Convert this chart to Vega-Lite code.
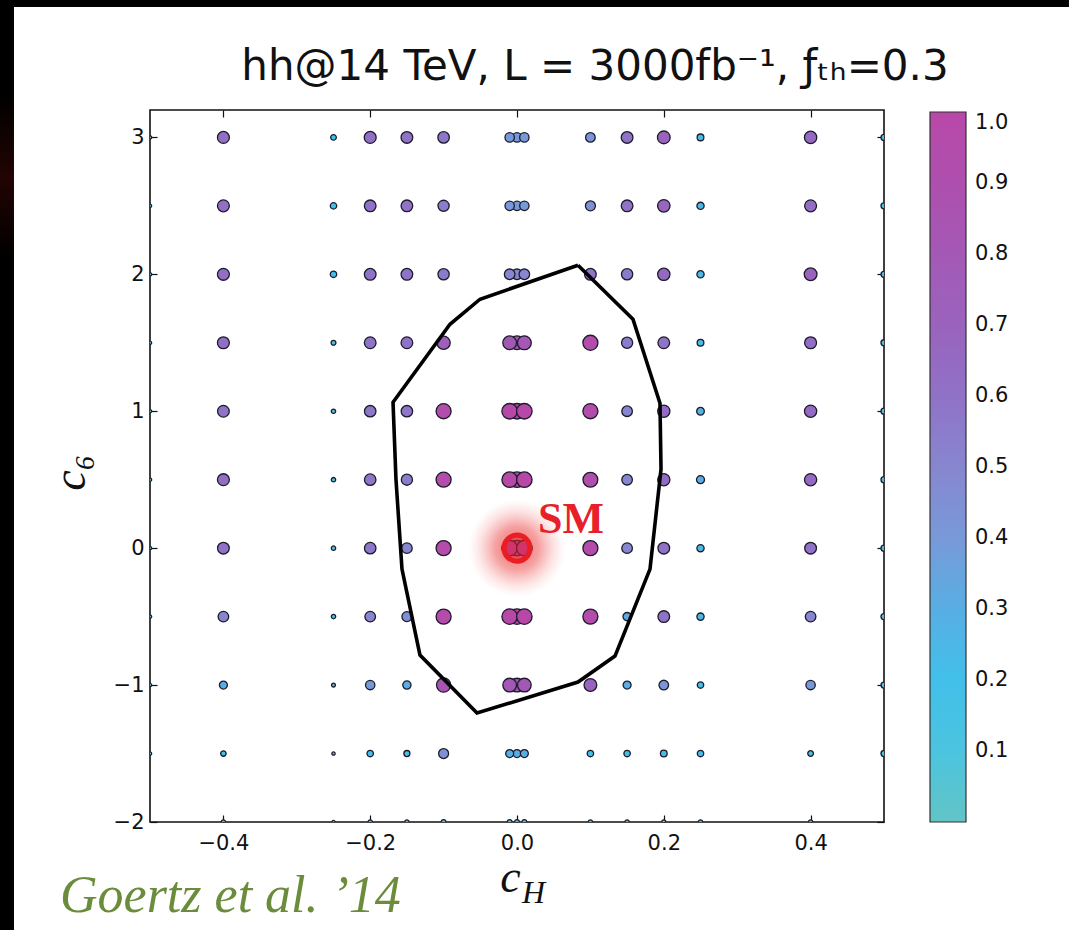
{
  "$schema": "https://vega.github.io/schema/vega-lite/v6.json",
  "width": 734,
  "height": 712,
  "autosize": {"type": "none"},
  "padding": {"left": 150, "top": 110, "right": 185, "bottom": 108},
  "background": "white",
  "title": {
    "text": "hh@14 TeV, L = 3000fb⁻¹, ƒₜₕ=0.3",
    "font": "DejaVu Sans",
    "fontSize": 42,
    "fontWeight": "normal",
    "color": "#111111",
    "anchor": "middle",
    "frame": "group",
    "baseline": "alphabetic",
    "dx": 78,
    "dy": 122,
    "offset": 0
  },
  "config": {
    "view": {"stroke": "#111111", "strokeWidth": 1.6, "fill": "white"}
  },
  "resolve": {"axis": {"x": "independent", "y": "independent"}},
  "layer": [
    {
      "description": "slide frame, left edge",
      "data": {"values": [{}]},
      "mark": {
        "type": "rect",
        "fill": {
          "gradient": "linear", "x1": 0, "y1": 0, "x2": 0, "y2": 1,
          "stops": [
            {"offset": 0, "color": "#000000"},
            {"offset": 0.1, "color": "#000000"},
            {"offset": 0.19, "color": "#220404"},
            {"offset": 0.28, "color": "#000000"},
            {"offset": 1, "color": "#000000"}
          ]
        }
      },
      "encoding": {
        "x": {"datum": -0.70436, "type": "quantitative", "axis": null},
        "x2": {"datum": -0.6853},
        "y": {"datum": 4.0034, "type": "quantitative", "axis": null},
        "y2": {"datum": -2.788}
      }
    },
    {
      "description": "slide frame, top edge",
      "data": {"values": [{}]},
      "mark": {"type": "rect", "fill": "#000000"},
      "encoding": {
        "x": {"datum": -0.70436, "type": "quantitative", "axis": null},
        "x2": {"datum": 0.752},
        "y": {"datum": 4.0034, "type": "quantitative", "axis": null},
        "y2": {"datum": 3.9525}
      }
    },
    {
      "description": "soft glow behind the SM point",
      "data": {"values": [{"cH": 0, "c6": 0}]},
      "mark": {
        "type": "point", "filled": true, "shape": "circle", "size": 9500, "opacity": 1, "strokeWidth": 0,
        "fill": {
          "gradient": "radial", "x1": 0.5, "y1": 0.5, "r1": 0, "x2": 0.5, "y2": 0.5, "r2": 0.5,
          "stops": [
            {"offset": 0, "color": "rgba(234,60,60,0.8)"},
            {"offset": 0.45, "color": "rgba(238,85,85,0.55)"},
            {"offset": 0.75, "color": "rgba(242,120,120,0.22)"},
            {"offset": 1, "color": "rgba(248,160,160,0)"}
          ]
        }
      },
      "encoding": {
        "x": {"field": "cH", "type": "quantitative", "axis": null},
        "y": {"field": "c6", "type": "quantitative", "axis": null}
      }
    },
    {
      "description": "scan points",
      "data": {"values": [
        {"x": -0.5, "y": 3, "p": 0.06}, {"x": -0.5, "y": 2.5, "p": 0.06}, {"x": -0.5, "y": 2, "p": 0.06}, {"x": -0.5, "y": 1.5, "p": 0.06}, {"x": -0.5, "y": 1, "p": 0.06}, {"x": -0.5, "y": 0.5, "p": 0.06}, {"x": -0.5, "y": 0, "p": 0.06}, {"x": -0.5, "y": -0.5, "p": 0.06}, {"x": -0.5, "y": -1, "p": 0.06}, {"x": -0.5, "y": -1.5, "p": 0.06},
        {"x": 0.5, "y": 3, "p": 0.18}, {"x": 0.5, "y": 2.5, "p": 0.18}, {"x": 0.5, "y": 2, "p": 0.18}, {"x": 0.5, "y": 1.5, "p": 0.18}, {"x": 0.5, "y": 1, "p": 0.18}, {"x": 0.5, "y": 0.5, "p": 0.18}, {"x": 0.5, "y": 0, "p": 0.18}, {"x": 0.5, "y": -0.5, "p": 0.18}, {"x": 0.5, "y": -1, "p": 0.18}, {"x": 0.5, "y": -1.5, "p": 0.18},
        {"x": -0.4, "y": -2, "p": 0.1}, {"x": -0.25, "y": -2, "p": 0.06}, {"x": -0.2, "y": -2, "p": 0.1}, {"x": -0.15, "y": -2, "p": 0.1}, {"x": -0.1, "y": -2, "p": 0.12}, {"x": 0, "y": -2, "p": 0.12}, {"x": -0.01, "y": -2, "p": 0.12}, {"x": 0.01, "y": -2, "p": 0.12}, {"x": 0.1, "y": -2, "p": 0.1}, {"x": 0.15, "y": -2, "p": 0.1}, {"x": 0.2, "y": -2, "p": 0.1}, {"x": 0.25, "y": -2, "p": 0.1}, {"x": 0.4, "y": -2, "p": 0.1},

        {"x": -0.4, "y": 3, "p": 0.62}, {"x": -0.25, "y": 3, "p": 0.16}, {"x": -0.2, "y": 3, "p": 0.62}, {"x": -0.15, "y": 3, "p": 0.6}, {"x": -0.1, "y": 3, "p": 0.58}, {"x": 0, "y": 3, "p": 0.4}, {"x": -0.01, "y": 3, "p": 0.4}, {"x": 0.01, "y": 3, "p": 0.4}, {"x": 0.1, "y": 3, "p": 0.42}, {"x": 0.15, "y": 3, "p": 0.6}, {"x": 0.2, "y": 3, "p": 0.7}, {"x": 0.25, "y": 3, "p": 0.22}, {"x": 0.4, "y": 3, "p": 0.66},
        {"x": -0.4, "y": 2.5, "p": 0.62}, {"x": -0.25, "y": 2.5, "p": 0.2}, {"x": -0.2, "y": 2.5, "p": 0.6}, {"x": -0.15, "y": 2.5, "p": 0.6}, {"x": -0.1, "y": 2.5, "p": 0.55}, {"x": 0, "y": 2.5, "p": 0.4}, {"x": -0.01, "y": 2.5, "p": 0.4}, {"x": 0.01, "y": 2.5, "p": 0.4}, {"x": 0.1, "y": 2.5, "p": 0.45}, {"x": 0.15, "y": 2.5, "p": 0.6}, {"x": 0.2, "y": 2.5, "p": 0.68}, {"x": 0.25, "y": 2.5, "p": 0.25}, {"x": 0.4, "y": 2.5, "p": 0.62},
        {"x": -0.4, "y": 2, "p": 0.62}, {"x": -0.25, "y": 2, "p": 0.2}, {"x": -0.2, "y": 2, "p": 0.6}, {"x": -0.15, "y": 2, "p": 0.6}, {"x": -0.1, "y": 2, "p": 0.56}, {"x": 0, "y": 2, "p": 0.5}, {"x": -0.01, "y": 2, "p": 0.5}, {"x": 0.01, "y": 2, "p": 0.5}, {"x": 0.1, "y": 2, "p": 0.6}, {"x": 0.15, "y": 2, "p": 0.56}, {"x": 0.2, "y": 2, "p": 0.66}, {"x": 0.25, "y": 2, "p": 0.25}, {"x": 0.4, "y": 2, "p": 0.7},
        {"x": -0.4, "y": 1.5, "p": 0.62}, {"x": -0.25, "y": 1.5, "p": 0.12}, {"x": -0.2, "y": 1.5, "p": 0.6}, {"x": -0.15, "y": 1.5, "p": 0.6}, {"x": -0.1, "y": 1.5, "p": 0.75}, {"x": 0, "y": 1.5, "p": 0.8}, {"x": -0.01, "y": 1.5, "p": 0.8}, {"x": 0.01, "y": 1.5, "p": 0.82}, {"x": 0.1, "y": 1.5, "p": 0.95}, {"x": 0.15, "y": 1.5, "p": 0.55}, {"x": 0.2, "y": 1.5, "p": 0.6}, {"x": 0.25, "y": 1.5, "p": 0.22}, {"x": 0.4, "y": 1.5, "p": 0.62},
        {"x": -0.4, "y": 1, "p": 0.6}, {"x": -0.25, "y": 1, "p": 0.1}, {"x": -0.2, "y": 1, "p": 0.58}, {"x": -0.15, "y": 1, "p": 0.58}, {"x": -0.1, "y": 1, "p": 0.95}, {"x": 0, "y": 1, "p": 1.0}, {"x": -0.01, "y": 1, "p": 1.0}, {"x": 0.01, "y": 1, "p": 1.0}, {"x": 0.1, "y": 1, "p": 0.95}, {"x": 0.15, "y": 1, "p": 0.5}, {"x": 0.2, "y": 1, "p": 0.65}, {"x": 0.25, "y": 1, "p": 0.28}, {"x": 0.4, "y": 1, "p": 0.65},
        {"x": -0.4, "y": 0.5, "p": 0.62}, {"x": -0.25, "y": 0.5, "p": 0.1}, {"x": -0.2, "y": 0.5, "p": 0.58}, {"x": -0.15, "y": 0.5, "p": 0.55}, {"x": -0.1, "y": 0.5, "p": 0.95}, {"x": 0, "y": 0.5, "p": 1.0}, {"x": -0.01, "y": 0.5, "p": 1.0}, {"x": 0.01, "y": 0.5, "p": 1.0}, {"x": 0.1, "y": 0.5, "p": 0.92}, {"x": 0.15, "y": 0.5, "p": 0.5}, {"x": 0.2, "y": 0.5, "p": 0.65}, {"x": 0.25, "y": 0.5, "p": 0.3}, {"x": 0.4, "y": 0.5, "p": 0.65},
        {"x": -0.4, "y": 0, "p": 0.6}, {"x": -0.25, "y": 0, "p": 0.1}, {"x": -0.2, "y": 0, "p": 0.58}, {"x": -0.15, "y": 0, "p": 0.5}, {"x": -0.1, "y": 0, "p": 0.95}, {"x": 0, "y": 0, "p": 1.0}, {"x": -0.01, "y": 0, "p": 1.0}, {"x": 0.01, "y": 0, "p": 1.0}, {"x": 0.1, "y": 0, "p": 0.95}, {"x": 0.15, "y": 0, "p": 0.5}, {"x": 0.2, "y": 0, "p": 0.6}, {"x": 0.25, "y": 0, "p": 0.25}, {"x": 0.4, "y": 0, "p": 0.6},
        {"x": -0.4, "y": -0.5, "p": 0.5}, {"x": -0.25, "y": -0.5, "p": 0.1}, {"x": -0.2, "y": -0.5, "p": 0.5}, {"x": -0.15, "y": -0.5, "p": 0.45}, {"x": -0.1, "y": -0.5, "p": 0.95}, {"x": 0, "y": -0.5, "p": 1.0}, {"x": -0.01, "y": -0.5, "p": 1.0}, {"x": 0.01, "y": -0.5, "p": 1.0}, {"x": 0.1, "y": -0.5, "p": 0.95}, {"x": 0.15, "y": -0.5, "p": 0.32}, {"x": 0.2, "y": -0.5, "p": 0.6}, {"x": 0.25, "y": -0.5, "p": 0.25}, {"x": 0.4, "y": -0.5, "p": 0.5},
        {"x": -0.4, "y": -1, "p": 0.3}, {"x": -0.25, "y": -1, "p": 0.08}, {"x": -0.2, "y": -1, "p": 0.4}, {"x": -0.15, "y": -1, "p": 0.32}, {"x": -0.1, "y": -1, "p": 0.85}, {"x": 0, "y": -1, "p": 0.8}, {"x": -0.01, "y": -1, "p": 0.8}, {"x": 0.01, "y": -1, "p": 0.8}, {"x": 0.1, "y": -1, "p": 0.7}, {"x": 0.15, "y": -1, "p": 0.3}, {"x": 0.2, "y": -1, "p": 0.42}, {"x": 0.25, "y": -1, "p": 0.2}, {"x": 0.4, "y": -1, "p": 0.4},
        {"x": -0.4, "y": -1.5, "p": 0.15}, {"x": -0.25, "y": -1.5, "p": 0.06}, {"x": -0.2, "y": -1.5, "p": 0.2}, {"x": -0.15, "y": -1.5, "p": 0.18}, {"x": -0.1, "y": -1.5, "p": 0.45}, {"x": 0, "y": -1.5, "p": 0.3}, {"x": -0.01, "y": -1.5, "p": 0.3}, {"x": 0.01, "y": -1.5, "p": 0.3}, {"x": 0.1, "y": -1.5, "p": 0.2}, {"x": 0.15, "y": -1.5, "p": 0.2}, {"x": 0.2, "y": -1.5, "p": 0.22}, {"x": 0.25, "y": -1.5, "p": 0.2}, {"x": 0.4, "y": -1.5, "p": 0.16}
      ]},
      "mark": {"type": "point", "filled": true, "shape": "circle", "opacity": 1, "stroke": "#1c1c2c", "strokeWidth": 1.3, "clip": true},
      "encoding": {
        "x": {
          "field": "x", "type": "quantitative",
          "scale": {"domain": [-0.5, 0.5], "nice": false, "zero": false},
          "axis": {
            "orient": "bottom", "values": [-0.4, -0.2, 0, 0.2, 0.4], "format": ".1f",
            "grid": false, "domain": false,
            "tickSize": -7, "tickColor": "#111111", "tickWidth": 1.2,
            "labelFont": "DejaVu Sans", "labelFontSize": 21, "labelColor": "#111111", "labelPadding": 17,
            "title": "c", "titleFont": "Liberation Serif", "titleFontStyle": "italic", "titleFontWeight": "normal",
            "titleFontSize": 46, "titleColor": "#111111", "titleX": 360, "titleY": 69, "titleBaseline": "alphabetic", "titleAlign": "center"
          }
        },
        "y": {
          "field": "y", "type": "quantitative",
          "scale": {"domain": [-2, 3.2], "nice": false, "zero": false},
          "axis": {
            "orient": "left", "values": [-2, -1, 0, 1, 2, 3], "format": "d",
            "grid": false, "domain": false,
            "tickSize": -7, "tickColor": "#111111", "tickWidth": 1.2,
            "labelFont": "DejaVu Sans", "labelFontSize": 21, "labelColor": "#111111", "labelPadding": 13,
            "title": "c₆", "titleFont": "Liberation Serif", "titleFontStyle": "italic", "titleFontWeight": "normal",
            "titleFontSize": 46, "titleColor": "#111111", "titleAngle": 270, "titleX": -66, "titleY": 362,
            "titleBaseline": "alphabetic", "titleAlign": "center"
          }
        },
        "color": {
          "field": "p", "type": "quantitative",
          "scale": {
            "domain": [0, 0.1, 0.2, 0.3, 0.4, 0.5, 0.6, 0.7, 0.8, 0.9, 1.0],
            "range": ["#62c4c6", "#4cc4e0", "#42bfea", "#58aee4", "#7899d8", "#8786cf", "#9072c6", "#9a63bd", "#a458b6", "#ae4fae", "#b848a8"],
            "interpolate": "rgb"
          },
          "legend": {
            "orient": "none", "legendX": 780, "legendY": 2, "direction": "vertical",
            "title": null, "gradientLength": 710, "gradientThickness": 36,
            "gradientStrokeColor": "#333333", "gradientStrokeWidth": 1.2,
            "values": [0.1, 0.2, 0.3, 0.4, 0.5, 0.6, 0.7, 0.8, 0.9, 1.0], "format": ".1f",
            "labelFont": "DejaVu Sans", "labelFontSize": 21, "labelColor": "#111111", "labelOffset": 9
          }
        },
        "size": {
          "field": "p", "type": "quantitative",
          "scale": {"type": "pow", "exponent": 1.1, "domain": [0, 1], "range": [0, 240]},
          "legend": null
        }
      }
    },
    {
      "description": "exclusion contour",
      "data": {"values": [
        {"i": 1, "x": 0.0831, "y": 2.066},
        {"i": 2, "x": 0.158, "y": 1.672},
        {"i": 3, "x": 0.1948, "y": 1.058},
        {"i": 4, "x": 0.1962, "y": 0.577},
        {"i": 5, "x": 0.1812, "y": -0.153},
        {"i": 6, "x": 0.1335, "y": -0.788},
        {"i": 7, "x": 0.0831, "y": -0.978},
        {"i": 8, "x": -0.0545, "y": -1.204},
        {"i": 9, "x": -0.1322, "y": -0.781},
        {"i": 10, "x": -0.1567, "y": -0.153},
        {"i": 11, "x": -0.1649, "y": 0.504},
        {"i": 12, "x": -0.1689, "y": 1.066},
        {"i": 13, "x": -0.0913, "y": 1.635},
        {"i": 14, "x": -0.0504, "y": 1.818},
        {"i": 15, "x": 0.0831, "y": 2.066}
      ]},
      "mark": {"type": "line", "color": "#000000", "strokeWidth": 3.6, "strokeJoin": "miter"},
      "encoding": {
        "x": {
          "field": "x", "type": "quantitative",
          "axis": {"orient": "top", "values": [-0.4, -0.2, 0, 0.2, 0.4], "labels": false, "domain": false, "grid": false, "title": null, "tickSize": -7, "tickColor": "#111111", "tickWidth": 1.2}
        },
        "y": {
          "field": "y", "type": "quantitative",
          "axis": {"orient": "right", "values": [-2, -1, 0, 1, 2, 3], "labels": false, "domain": false, "grid": false, "title": null, "tickSize": -7, "tickColor": "#111111", "tickWidth": 1.2}
        },
        "order": {"field": "i", "type": "quantitative"}
      }
    },
    {
      "description": "SM marker ring",
      "data": {"values": [{"cH": 0, "c6": 0, "label": "SM"}]},
      "mark": {"type": "point", "filled": false, "shape": "circle", "size": 680, "fill": "#e8202a", "fillOpacity": 0.5, "stroke": "#ea1c24", "strokeWidth": 5, "opacity": 1},
      "encoding": {
        "x": {"field": "cH", "type": "quantitative", "axis": null},
        "y": {"field": "c6", "type": "quantitative", "axis": null}
      }
    },
    {
      "description": "SM label",
      "data": {"values": [{"cH": 0, "c6": 0, "label": "SM"}]},
      "mark": {"type": "text", "font": "Liberation Serif", "fontWeight": "bold", "fontSize": 44, "color": "#e8202a", "align": "left", "baseline": "alphabetic", "dx": 21, "dy": -15},
      "encoding": {
        "x": {"field": "cH", "type": "quantitative", "axis": null},
        "y": {"field": "c6", "type": "quantitative", "axis": null},
        "text": {"field": "label"}
      }
    },
    {
      "description": "subscript of the x-axis title",
      "data": {"values": [{"sub": "H"}]},
      "mark": {"type": "text", "font": "Liberation Serif", "fontStyle": "italic", "fontSize": 32, "color": "#111111", "align": "left", "baseline": "alphabetic", "dx": 5, "dy": 81},
      "encoding": {
        "x": {"datum": 0, "type": "quantitative", "axis": null},
        "y": {"datum": -2, "type": "quantitative", "axis": null},
        "text": {"field": "sub"}
      }
    },
    {
      "description": "citation",
      "data": {"values": [{"ref": "Goertz et al. ’14"}]},
      "mark": {"type": "text", "font": "Liberation Serif", "fontStyle": "italic", "fontSize": 52, "color": "#6b8c3b", "align": "left", "baseline": "alphabetic", "dx": -90, "dy": 90},
      "encoding": {
        "x": {"datum": -0.5, "type": "quantitative", "axis": null},
        "y": {"datum": -2, "type": "quantitative", "axis": null},
        "text": {"field": "ref"}
      }
    }
  ]
}
